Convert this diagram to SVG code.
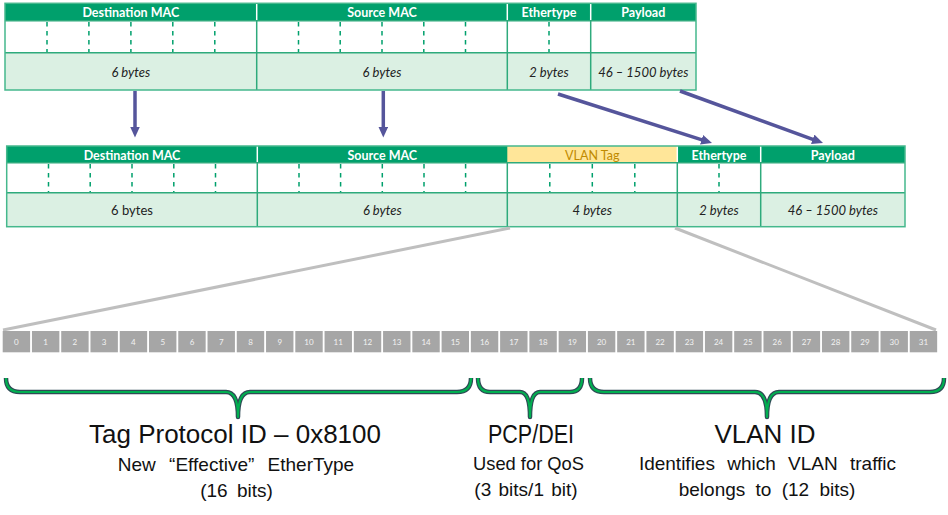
<svg xmlns="http://www.w3.org/2000/svg" width="948" height="515" viewBox="0 0 948 515">
<style>
.hdr{fill:#00A06C}
.wrow{fill:#FFFFFF}
.grow{fill:#DBF0E3}
.frame{fill:none;stroke:#45B88D;stroke-width:1.5}
.div{stroke:#2EAA7C;stroke-width:1.5}
.hdiv{stroke:#FFFFFF;stroke-width:1.5}
.dash{stroke:#00A06C;stroke-width:1.5;stroke-dasharray:4.5 4.5}
.ht{font-family:Lato,"Open Sans",sans-serif;font-weight:bold;font-size:12.5px;fill:#FFFFFF;text-anchor:middle}
.vt{font-family:Lato,"Open Sans",sans-serif;font-size:12.5px;fill:#BF8A00;text-anchor:middle}
.bt{font-family:Lato,"Open Sans",sans-serif;font-size:13px;fill:#222222;text-anchor:middle}
.it{font-style:italic}
.arr{stroke:#55559B;stroke-width:3.5;fill:none;marker-end:url(#ah)}
.gl{stroke:#BFBFBF;stroke-width:3;fill:none}
.bit{fill:#A6A6A6}
.bitt{font-family:Lato,"Liberation Sans",sans-serif;font-size:8px;fill:#F2F2F2;text-anchor:middle}
.brO{fill:none;stroke:#2E4A55;stroke-width:4.5;stroke-linejoin:round}
.brI{fill:none;stroke:#00B050;stroke-width:2.2;stroke-linejoin:round}
.big{font-family:"Liberation Sans",Arial,sans-serif;font-size:26px;fill:#111111;text-anchor:middle}
.sub{font-family:"Liberation Sans",Arial,sans-serif;font-size:19px;fill:#111111;text-anchor:middle}
</style>
<defs>
<marker id="ah" viewBox="0 0 11 10" refX="3" refY="5" markerWidth="11" markerHeight="10" markerUnits="userSpaceOnUse" orient="auto">
<path d="M0,0 L11,5 L0,10 z" fill="#55559B"/>
</marker>
</defs>

<g id="frame-original">
<rect class="hdr" x="5" y="3.3" width="691" height="17.4"/>
<rect class="wrow" x="5" y="20.7" width="691" height="32"/>
<rect class="grow" x="5" y="52.7" width="691" height="37.3"/>
<line class="hdiv" x1="256.7" y1="3.3" x2="256.7" y2="20.7"/>
<line class="hdiv" x1="507.3" y1="3.3" x2="507.3" y2="20.7"/>
<line class="hdiv" x1="590.7" y1="3.3" x2="590.7" y2="20.7"/>
<line class="div" x1="5" y1="20.7" x2="696" y2="20.7"/>
<line class="div" x1="5" y1="52.7" x2="696" y2="52.7"/>
<line class="div" x1="256.7" y1="20.7" x2="256.7" y2="90"/>
<line class="div" x1="507.3" y1="20.7" x2="507.3" y2="90"/>
<line class="div" x1="590.7" y1="20.7" x2="590.7" y2="90"/>
<g>
<line class="dash" x1="47" y1="22" x2="47" y2="52"/>
<line class="dash" x1="88.9" y1="22" x2="88.9" y2="52"/>
<line class="dash" x1="130.9" y1="22" x2="130.9" y2="52"/>
<line class="dash" x1="172.8" y1="22" x2="172.8" y2="52"/>
<line class="dash" x1="214.8" y1="22" x2="214.8" y2="52"/>
<line class="dash" x1="298.5" y1="22" x2="298.5" y2="52"/>
<line class="dash" x1="340.2" y1="22" x2="340.2" y2="52"/>
<line class="dash" x1="382" y1="22" x2="382" y2="52"/>
<line class="dash" x1="423.8" y1="22" x2="423.8" y2="52"/>
<line class="dash" x1="465.5" y1="22" x2="465.5" y2="52"/>
<line class="dash" x1="549" y1="22" x2="549" y2="52"/>
</g>
<rect class="frame" x="5" y="3.3" width="691" height="86.7"/>
<text class="ht" x="130.8" y="16.7">Destination MAC</text>
<text class="ht" x="382" y="16.7">Source MAC</text>
<text class="ht" x="549" y="16.7">Ethertype</text>
<text class="ht" x="643.3" y="16.7">Payload</text>
<text class="bt it" x="130.8" y="76.5">6 bytes</text>
<text class="bt it" x="382" y="76.5">6 bytes</text>
<text class="bt it" x="549" y="76.5">2 bytes</text>
<text class="bt it" x="643.3" y="76.5">46 – 1500 bytes</text>
</g>

<g id="frame-tagged">
<rect class="hdr" x="6.7" y="146" width="898.3" height="16.7"/>
<rect fill="#FFE699" x="507.3" y="146" width="170" height="16.7"/>
<rect class="wrow" x="6.7" y="162.7" width="898.3" height="30"/>
<rect class="grow" x="6.7" y="192.7" width="898.3" height="34"/>
<line class="hdiv" x1="257.3" y1="146" x2="257.3" y2="162.7"/>
<line class="hdiv" x1="677.3" y1="146" x2="677.3" y2="162.7"/>
<line class="hdiv" x1="760.7" y1="146" x2="760.7" y2="162.7"/>
<line class="div" x1="6.7" y1="162.7" x2="905" y2="162.7"/>
<line class="div" x1="6.7" y1="192.7" x2="905" y2="192.7"/>
<line class="div" x1="257.3" y1="162.7" x2="257.3" y2="226.7"/>
<line class="div" x1="507.3" y1="162.7" x2="507.3" y2="226.7"/>
<line class="div" x1="677.3" y1="162.7" x2="677.3" y2="226.7"/>
<line class="div" x1="760.7" y1="162.7" x2="760.7" y2="226.7"/>
<g>
<line class="dash" x1="48.5" y1="164" x2="48.5" y2="192"/>
<line class="dash" x1="90.2" y1="164" x2="90.2" y2="192"/>
<line class="dash" x1="132" y1="164" x2="132" y2="192"/>
<line class="dash" x1="173.8" y1="164" x2="173.8" y2="192"/>
<line class="dash" x1="215.5" y1="164" x2="215.5" y2="192"/>
<line class="dash" x1="299" y1="164" x2="299" y2="192"/>
<line class="dash" x1="340.6" y1="164" x2="340.6" y2="192"/>
<line class="dash" x1="382.3" y1="164" x2="382.3" y2="192"/>
<line class="dash" x1="424" y1="164" x2="424" y2="192"/>
<line class="dash" x1="465.6" y1="164" x2="465.6" y2="192"/>
<line class="dash" x1="549.8" y1="164" x2="549.8" y2="192"/>
<line class="dash" x1="592.3" y1="164" x2="592.3" y2="192"/>
<line class="dash" x1="634.8" y1="164" x2="634.8" y2="192"/>
<line class="dash" x1="719" y1="164" x2="719" y2="192"/>
</g>
<rect class="frame" x="6.7" y="146" width="898.3" height="80.7"/>
<text class="ht" x="132" y="159.5">Destination MAC</text>
<text class="ht" x="382.3" y="159.5">Source MAC</text>
<text class="vt" x="592.3" y="159.5">VLAN Tag</text>
<text class="ht" x="719" y="159.5">Ethertype</text>
<text class="ht" x="832.8" y="159.5">Payload</text>
<text class="bt" x="132" y="214.5">6 bytes</text>
<text class="bt it" x="382.3" y="214.5">6 bytes</text>
<text class="bt it" x="592.3" y="214.5">4 bytes</text>
<text class="bt it" x="719" y="214.5">2 bytes</text>
<text class="bt it" x="832.8" y="214.5">46 – 1500 bytes</text>
</g>

<g id="connectors">
<line class="arr" x1="135" y1="91" x2="135" y2="129.5"/>
<line class="arr" x1="383.3" y1="91" x2="383.3" y2="129.5"/>
<line class="arr" x1="558" y1="94" x2="704.4" y2="140.6"/>
<line class="arr" x1="680" y1="91" x2="815.5" y2="140.3"/>
<line class="gl" x1="510" y1="228" x2="3" y2="330"/>
<line class="gl" x1="675" y1="228" x2="936" y2="330"/>
</g>

<g id="bits">
<rect class="bit" x="2.7" y="331" width="27.4" height="21.3"/><text class="bitt" x="16.4" y="344.5">0</text>
<rect class="bit" x="31.96" y="331" width="27.4" height="21.3"/><text class="bitt" x="45.66" y="344.5">1</text>
<rect class="bit" x="61.22" y="331" width="27.4" height="21.3"/><text class="bitt" x="74.92" y="344.5">2</text>
<rect class="bit" x="90.48" y="331" width="27.4" height="21.3"/><text class="bitt" x="104.18" y="344.5">3</text>
<rect class="bit" x="119.74" y="331" width="27.4" height="21.3"/><text class="bitt" x="133.44" y="344.5">4</text>
<rect class="bit" x="149" y="331" width="27.4" height="21.3"/><text class="bitt" x="162.7" y="344.5">5</text>
<rect class="bit" x="178.26" y="331" width="27.4" height="21.3"/><text class="bitt" x="191.96" y="344.5">6</text>
<rect class="bit" x="207.52" y="331" width="27.4" height="21.3"/><text class="bitt" x="221.22" y="344.5">7</text>
<rect class="bit" x="236.78" y="331" width="27.4" height="21.3"/><text class="bitt" x="250.48" y="344.5">8</text>
<rect class="bit" x="266.04" y="331" width="27.4" height="21.3"/><text class="bitt" x="279.74" y="344.5">9</text>
<rect class="bit" x="295.3" y="331" width="27.4" height="21.3"/><text class="bitt" x="309" y="344.5">10</text>
<rect class="bit" x="324.56" y="331" width="27.4" height="21.3"/><text class="bitt" x="338.26" y="344.5">11</text>
<rect class="bit" x="353.82" y="331" width="27.4" height="21.3"/><text class="bitt" x="367.52" y="344.5">12</text>
<rect class="bit" x="383.08" y="331" width="27.4" height="21.3"/><text class="bitt" x="396.78" y="344.5">13</text>
<rect class="bit" x="412.34" y="331" width="27.4" height="21.3"/><text class="bitt" x="426.04" y="344.5">14</text>
<rect class="bit" x="441.6" y="331" width="27.4" height="21.3"/><text class="bitt" x="455.3" y="344.5">15</text>
<rect class="bit" x="470.86" y="331" width="27.4" height="21.3"/><text class="bitt" x="484.56" y="344.5">16</text>
<rect class="bit" x="500.12" y="331" width="27.4" height="21.3"/><text class="bitt" x="513.82" y="344.5">17</text>
<rect class="bit" x="529.38" y="331" width="27.4" height="21.3"/><text class="bitt" x="543.08" y="344.5">18</text>
<rect class="bit" x="558.64" y="331" width="27.4" height="21.3"/><text class="bitt" x="572.34" y="344.5">19</text>
<rect class="bit" x="587.9" y="331" width="27.4" height="21.3"/><text class="bitt" x="601.6" y="344.5">20</text>
<rect class="bit" x="617.16" y="331" width="27.4" height="21.3"/><text class="bitt" x="630.86" y="344.5">21</text>
<rect class="bit" x="646.42" y="331" width="27.4" height="21.3"/><text class="bitt" x="660.12" y="344.5">22</text>
<rect class="bit" x="675.68" y="331" width="27.4" height="21.3"/><text class="bitt" x="689.38" y="344.5">23</text>
<rect class="bit" x="704.94" y="331" width="27.4" height="21.3"/><text class="bitt" x="718.64" y="344.5">24</text>
<rect class="bit" x="734.2" y="331" width="27.4" height="21.3"/><text class="bitt" x="747.9" y="344.5">25</text>
<rect class="bit" x="763.46" y="331" width="27.4" height="21.3"/><text class="bitt" x="777.16" y="344.5">26</text>
<rect class="bit" x="792.72" y="331" width="27.4" height="21.3"/><text class="bitt" x="806.42" y="344.5">27</text>
<rect class="bit" x="821.98" y="331" width="27.4" height="21.3"/><text class="bitt" x="835.68" y="344.5">28</text>
<rect class="bit" x="851.24" y="331" width="27.4" height="21.3"/><text class="bitt" x="864.94" y="344.5">29</text>
<rect class="bit" x="880.5" y="331" width="27.4" height="21.3"/><text class="bitt" x="894.2" y="344.5">30</text>
<rect class="bit" x="909.76" y="331" width="27.4" height="21.3"/><text class="bitt" x="923.46" y="344.5">31</text>
</g>

<g id="brace-tpid">
<path class="brO" d="M6,378 Q6,392 20,392 L226,392 Q238,392 238,417 Q238,392 250,392 L457,392 Q471,392 471,378"/>
<path class="brI" d="M6,378 Q6,392 20,392 L226,392 Q238,392 238,417 Q238,392 250,392 L457,392 Q471,392 471,378"/>
<text class="big" x="235" y="443">Tag Protocol ID – 0x8100</text>
<text class="sub" x="236" y="470.7" word-spacing="8">New “Effective” EtherType</text>
<text class="sub" x="236.5" y="496.5" word-spacing="4">(16 bits)</text>
</g>

<g id="brace-pcp">
<path class="brO" d="M478,378 Q478,392 490,392 L520,392 Q530,392 530,417 Q530,392 540,392 L570,392 Q582,392 582,378"/>
<path class="brI" d="M478,378 Q478,392 490,392 L520,392 Q530,392 530,417 Q530,392 540,392 L570,392 Q582,392 582,378"/>
<text class="big" x="531" y="442.7" textLength="86" lengthAdjust="spacingAndGlyphs">PCP/DEI</text>
<text class="sub" x="528.5" y="470" textLength="111" lengthAdjust="spacingAndGlyphs">Used for QoS</text>
<text class="sub" x="526" y="496" word-spacing="2">(3 bits/1 bit)</text>
</g>

<g id="brace-vid">
<path class="brO" d="M590,378 Q590,392 604,392 L755,392 Q767,392 767,417 Q767,392 779,392 L930,392 Q944,392 944,378"/>
<path class="brI" d="M590,378 Q590,392 604,392 L755,392 Q767,392 767,417 Q767,392 779,392 L930,392 Q944,392 944,378"/>
<text class="big" x="765" y="442.7">VLAN ID</text>
<text class="sub" x="767.5" y="470" word-spacing="7">Identifies which VLAN traffic</text>
<text class="sub" x="767" y="496" word-spacing="5">belongs to (12 bits)</text>
</g>
</svg>
